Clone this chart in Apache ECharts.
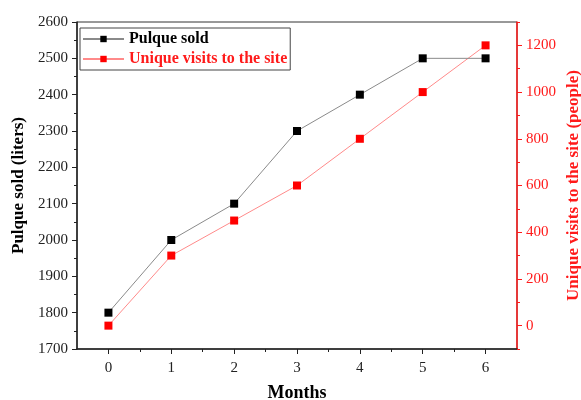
<!DOCTYPE html>
<html>
<head>
<meta charset="utf-8">
<script src="https://cdn.jsdelivr.net/npm/echarts@6/dist/echarts.min.js"></script>
<style>
  html, body { margin: 0; padding: 0; background: #fff; }
  #chart { width: 581px; height: 400px; }
</style>
</head>
<body>
<div id="chart"></div>
<script>
// data
var months = [0, 1, 2, 3, 4, 5, 6];
var pulqueSold = [1800, 2000, 2100, 2300, 2400, 2500, 2500];
var uniqueVisits = [0, 300, 450, 600, 800, 1000, 1200];

// tick positions
var monthTicks = [0, 1, 2, 3, 4, 5, 6];
var monthMinorTicks = [0.5, 1.5, 2.5, 3.5, 4.5, 5.5];
var visitTicks = [0, 200, 400, 600, 800, 1000, 1200];
var visitMinorTicks = [-100, 100, 300, 500, 700, 900, 1100, 1300];

var FONT = "Liberation Serif";
var RED = "#ff1a1a";

var chart = echarts.init(document.getElementById("chart"));

function pairs(xs, ys) {
  return xs.map(function (x, i) { return [x, ys[i]]; });
}
function plain(v) { return String(v); }

chart.setOption({
  animation: false,
  textStyle: { fontFamily: FONT },
  grid: {
    left: 77, right: 64, top: 22, bottom: 51,
    outerBoundsMode: "none",
    containLabel: false,
    show: true, borderColor: "#333", borderWidth: 1
  },
  legend: {
    orient: "vertical",
    left: 80, top: 28,
    padding: [3, 3, 3, 2],
    itemGap: 4,
    itemWidth: 41, itemHeight: 8,
    borderColor: "#444", borderWidth: 1,
    textStyle: { fontFamily: FONT, fontWeight: "bold", fontSize: 16 },
    data: [
      { name: "Pulque sold", textStyle: { color: "#000" } },
      { name: "Unique visits to the site", textStyle: { color: RED } }
    ]
  },
  xAxis: [
    {
      type: "value", min: -0.5, max: 6.5, position: "bottom",
      name: "Months", nameLocation: "middle", nameGap: 35,
      nameTextStyle: { fontFamily: FONT, fontWeight: "bold", fontSize: 18, color: "#000" },
      axisLine: { onZero: false, lineStyle: { color: "#222", width: 1.5 } },
      axisTick: { customValues: monthTicks, length: 5, lineStyle: { color: "#222" } },
      axisLabel: { customValues: monthTicks, fontSize: 15, color: "#222", margin: 12, formatter: plain },
      splitLine: { show: false }
    },
    {
      type: "value", min: -0.5, max: 6.5, position: "bottom",
      axisLine: { show: false, onZero: false },
      axisTick: { customValues: monthMinorTicks, length: 3, lineStyle: { color: "#222" } },
      axisLabel: { show: false },
      splitLine: { show: false }
    }
  ],
  yAxis: [
    {
      type: "value", min: 1700, max: 2600, interval: 100, position: "left",
      name: "Pulque sold (liters)", nameLocation: "middle", nameGap: 49,
      nameTextStyle: { fontFamily: FONT, fontWeight: "bold", fontSize: 17, color: "#000" },
      axisLine: { show: true, onZero: false, lineStyle: { color: "#222", width: 1.5 } },
      axisTick: { show: true, length: 5, lineStyle: { color: "#222" } },
      minorTick: { show: true, splitNumber: 2, length: 3, lineStyle: { color: "#222" } },
      axisLabel: { fontSize: 15, color: "#222", margin: 9, formatter: plain },
      splitLine: { show: false }
    },
    {
      type: "value", min: -100, max: 1300, position: "right",
      name: "Unique visits to the site (people)", nameLocation: "middle", nameGap: 48,
      nameMoveOverlap: false,
      nameTextStyle: { fontFamily: FONT, fontWeight: "bold", fontSize: 17, color: RED },
      axisLine: { show: true, onZero: false, lineStyle: { color: RED, width: 1.5 } },
      axisTick: { show: true, customValues: visitTicks, length: 5, lineStyle: { color: RED } },
      axisLabel: { customValues: visitTicks, fontSize: 15, color: RED, margin: 9, formatter: plain },
      splitLine: { show: false }
    },
    {
      type: "value", min: -100, max: 1300, position: "right",
      axisLine: { show: false, onZero: false },
      axisTick: { show: true, customValues: visitMinorTicks, length: 3, lineStyle: { color: RED } },
      axisLabel: { show: false },
      splitLine: { show: false }
    }
  ],
  series: [
    {
      name: "Pulque sold", type: "line",
      xAxisIndex: 0, yAxisIndex: 0,
      data: pairs(months, pulqueSold),
      symbol: "rect", symbolSize: 8,
      itemStyle: { color: "#000" },
      lineStyle: { color: "#8a8a8a", width: 1 },
      z: 3
    },
    {
      name: "Unique visits to the site", type: "line",
      xAxisIndex: 0, yAxisIndex: 1,
      data: pairs(months, uniqueVisits),
      symbol: "rect", symbolSize: 8,
      itemStyle: { color: "#ff0000" },
      lineStyle: { color: "#ff8a8a", width: 1 },
      z: 2
    }
  ]
});
</script>
</body>
</html>
